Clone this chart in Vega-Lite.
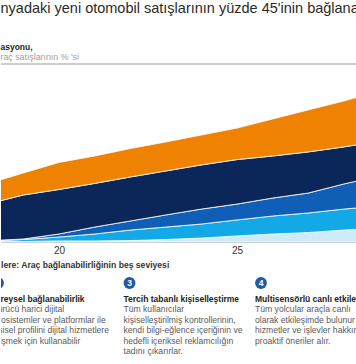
{
  "$schema": "https://vega.github.io/schema/vega-lite/v6.json",
  "padding": 0,
  "spacing": 6,
  "background": "white",
  "config": {"font": "Liberation Sans", "view": {"stroke": null}},
  "title": {"text": "nyadaki yeni otomobil satışlarının yüzde 45'inin bağlana", "anchor": "start", "fontSize": 14.5, "fontWeight": "normal", "color": "#2a2a2a", "offset": 27},
  "datasets": {
    "area": [
      {"year": 2018, "level": 5, "share": 0.3}, {"year": 2018, "level": 4, "share": 0.3}, {"year": 2018, "level": 3, "share": 0.1}, {"year": 2018, "level": 2, "share": 20.7}, {"year": 2018, "level": 1, "share": 11.3},
      {"year": 2019, "level": 5, "share": 0.3}, {"year": 2019, "level": 4, "share": 1.1}, {"year": 2019, "level": 3, "share": 0.3}, {"year": 2019, "level": 2, "share": 24.7}, {"year": 2019, "level": 1, "share": 12.4},
      {"year": 2020, "level": 5, "share": 0.6}, {"year": 2020, "level": 4, "share": 2.2}, {"year": 2020, "level": 3, "share": 1.7}, {"year": 2020, "level": 2, "share": 25.0}, {"year": 2020, "level": 1, "share": 15.2},
      {"year": 2021, "level": 5, "share": 0.6}, {"year": 2021, "level": 4, "share": 3.9}, {"year": 2021, "level": 3, "share": 3.9}, {"year": 2021, "level": 2, "share": 24.5}, {"year": 2021, "level": 1, "share": 15.4},
      {"year": 2022, "level": 5, "share": 0.8}, {"year": 2022, "level": 4, "share": 5.9}, {"year": 2022, "level": 3, "share": 5.1}, {"year": 2022, "level": 2, "share": 24.7}, {"year": 2022, "level": 1, "share": 16.0},
      {"year": 2023, "level": 5, "share": 1.4}, {"year": 2023, "level": 4, "share": 7.0}, {"year": 2023, "level": 3, "share": 6.8}, {"year": 2023, "level": 2, "share": 24.7}, {"year": 2023, "level": 1, "share": 16.3},
      {"year": 2024, "level": 5, "share": 2.2}, {"year": 2024, "level": 4, "share": 7.9}, {"year": 2024, "level": 3, "share": 8.4}, {"year": 2024, "level": 2, "share": 24.8}, {"year": 2024, "level": 1, "share": 16.8},
      {"year": 2025, "level": 5, "share": 3.4}, {"year": 2025, "level": 4, "share": 9.0}, {"year": 2025, "level": 3, "share": 8.9}, {"year": 2025, "level": 2, "share": 25.0}, {"year": 2025, "level": 1, "share": 17.7},
      {"year": 2026, "level": 5, "share": 4.5}, {"year": 2026, "level": 4, "share": 10.1}, {"year": 2026, "level": 3, "share": 10.1}, {"year": 2026, "level": 2, "share": 23.6}, {"year": 2026, "level": 1, "share": 20.8},
      {"year": 2027, "level": 5, "share": 5.3}, {"year": 2027, "level": 4, "share": 11.0}, {"year": 2027, "level": 3, "share": 11.2}, {"year": 2027, "level": 2, "share": 23.1}, {"year": 2027, "level": 1, "share": 23.6},
      {"year": 2028, "level": 5, "share": 6.7}, {"year": 2028, "level": 4, "share": 11.8}, {"year": 2028, "level": 3, "share": 14.1}, {"year": 2028, "level": 2, "share": 20.8}, {"year": 2028, "level": 1, "share": 25.8},
      {"year": 2029, "level": 5, "share": 7.9}, {"year": 2029, "level": 4, "share": 12.3}, {"year": 2029, "level": 3, "share": 16.9}, {"year": 2029, "level": 2, "share": 19.6}, {"year": 2029, "level": 1, "share": 28.1}
    ],
    "notes": [
      {"level": 2, "kind": "num", "line": -1.5, "text": "2"},
      {"level": 3, "kind": "num", "line": -1.5, "text": "3"},
      {"level": 4, "kind": "num", "line": -1.5, "text": "4"},
      {"level": 2, "kind": "head", "line": 0, "text": "Bireysel bağlanabilirlik"},
      {"level": 3, "kind": "head", "line": 0, "text": "Tercih tabanlı kişiselleştirme"},
      {"level": 4, "kind": "head", "line": 0, "text": "Multisensörlü canlı etkileşim"},
      {"level": 2, "kind": "body", "line": 1, "text": "Sürücü  harici dijital"},
      {"level": 2, "kind": "body", "line": 2, "text": "ekosistemler ve platformlar  ile"},
      {"level": 2, "kind": "body", "line": 3, "text": "kişisel profilini dijital hizmetlere"},
      {"level": 2, "kind": "body", "line": 4, "text": "erişmek için kullanabilir"},
      {"level": 3, "kind": "body", "line": 1, "text": "Tüm kullanıcılar"},
      {"level": 3, "kind": "body", "line": 2, "text": "kişiselleştirilmiş kontrollerinin,"},
      {"level": 3, "kind": "body", "line": 3, "text": "kendi bilgi-eğlence içeriğinin ve"},
      {"level": 3, "kind": "body", "line": 4, "text": "hedefli içeriksel reklamcılığın"},
      {"level": 3, "kind": "body", "line": 5, "text": "tadını  çıkarırlar."},
      {"level": 4, "kind": "body", "line": 1, "text": "Tüm yolcular  araçla canlı"},
      {"level": 4, "kind": "body", "line": 2, "text": "olarak etkileşimde bulunur"},
      {"level": 4, "kind": "body", "line": 3, "text": "hizmetler ve işlevler hakkında"},
      {"level": 4, "kind": "body", "line": 4, "text": "proaktif öneriler alır."}
    ]
  },
  "vconcat": [
    {
      "width": 356,
      "height": 178,
      "title": {"text": "asyonu,", "subtitle": "raç satışlarının  % 'si", "anchor": "start", "fontSize": 8.5, "fontWeight": "bold", "color": "#1e1e1e", "subtitleFontSize": 8.8, "subtitleColor": "#a0a0a0", "subtitlePadding": 1, "offset": 2},
      "layer": [
        {
          "data": {"name": "area"},
          "mark": {"type": "area", "clip": true, "stroke": "white", "strokeWidth": 0.8, "interpolate": "linear"},
          "encoding": {
            "x": {"field": "year", "type": "quantitative", "scale": {"domain": [2018.37, 2028.37], "nice": false, "zero": false},
                  "axis": {"values": [2020, 2025], "labelExpr": "datum.value == 2020 ? '20' : '25'", "ticks": false, "grid": false, "domainColor": "#d0d0d0", "labelFontSize": 10, "labelColor": "#333333", "labelPadding": 3, "title": null, "zindex": 1}},
            "y": {"field": "share", "type": "quantitative", "stack": "zero", "scale": {"domain": [0, 100], "nice": false}, "axis": null},
            "color": {"field": "level", "type": "nominal", "scale": {"domain": [1, 2, 3, 4, 5], "range": ["#ef8200", "#0b2659", "#0f5fb6", "#13a8e6", "#cdecfa"]}, "legend": null},
            "order": {"field": "level", "type": "quantitative", "sort": "descending"}
          }
        },
        {
          "data": {"values": [{}]},
          "mark": {"type": "rule", "color": "#9a9a9a", "strokeWidth": 1},
          "encoding": {"y": {"datum": 100}}
        }
      ]
    },
    {
      "width": 356,
      "height": 82,
      "title": {"text": "lere: Araç bağlanabilirliğinin  beş seviyesi", "anchor": "start", "fontSize": 8.6, "fontWeight": "bold", "color": "#333333", "offset": 4},
      "data": {"name": "notes"},
      "encoding": {
        "x": {"field": "level", "type": "quantitative", "scale": {"domain": [2.0228, 4.73], "nice": false, "zero": false}, "axis": null},
        "y": {"field": "line", "type": "quantitative", "scale": {"domain": [-2.357, 5.45], "nice": false, "zero": false, "reverse": true}, "axis": null}
      },
      "layer": [
        {"transform": [{"filter": "datum.kind == 'num'"}], "mark": {"type": "point", "shape": "circle", "filled": true, "opacity": 1, "size": 140, "color": "#1f5aa6", "clip": true}},
        {"transform": [{"filter": "datum.kind == 'num'"}], "mark": {"type": "text", "color": "white", "fontWeight": "bold", "fontSize": 8.5, "align": "center", "baseline": "middle", "clip": true}, "encoding": {"text": {"field": "text"}}},
        {"transform": [{"filter": "datum.kind == 'head'"}], "mark": {"type": "text", "color": "#222222", "fontWeight": "bold", "fontSize": 8.5, "align": "left", "baseline": "middle", "dx": -6, "clip": true}, "encoding": {"text": {"field": "text"}}},
        {"transform": [{"filter": "datum.kind == 'body'"}], "mark": {"type": "text", "color": "#5a5a5a", "fontSize": 8.6, "align": "left", "baseline": "middle", "dx": -6, "clip": true}, "encoding": {"text": {"field": "text"}}}
      ]
    }
  ]
}
